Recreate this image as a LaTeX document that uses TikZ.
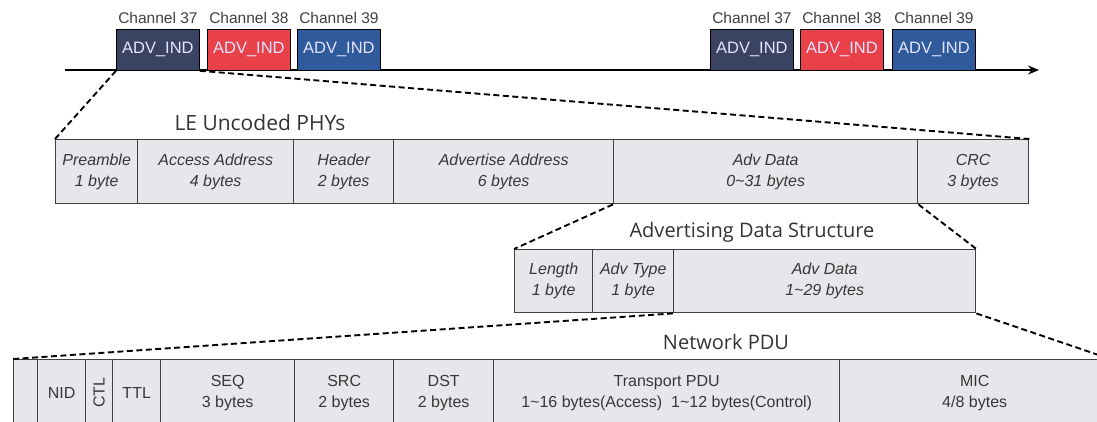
\documentclass[tikz,border=0pt]{standalone}
\usepackage{fontspec}
\setmainfont{Liberation Sans}
\newfontfamily\titlefont{Open Sans}
\usetikzlibrary{arrows.meta}

\definecolor{chnavy}{HTML}{3A4362}
\definecolor{chred}{HTML}{E8414A}
\definecolor{chblue}{HTML}{2F5A9C}
\definecolor{cellgray}{HTML}{E6E6EB}
\definecolor{edgegray}{HTML}{404040}

\tikzset{
  advbox/.style={draw=black, line width=0.8pt, inner sep=0pt, anchor=north west,
    minimum width=83pt, minimum height=41pt, text=white!90!blue,
    font=\fontsize{16.5}{18}\selectfont},
  chlabel/.style={inner sep=0pt, text=black!75, font=\fontsize{15.5}{17}\selectfont},
  cell/.style={draw=edgegray, fill=cellgray, line width=1.4pt, inner sep=0pt,
    anchor=north west, align=center, text=black!78,
    font=\fontsize{16}{21}\selectfont\itshape},
  pducell/.style={cell, font=\fontsize{16}{21}\selectfont},
  title/.style={inner sep=0pt, text=black!80, font=\titlefont\fontsize{20}{22}\selectfont},
  zoomline/.style={line width=1.9pt, dash pattern=on 6pt off 3.5pt}
}

\begin{document}
\begin{tikzpicture}[x=1pt,y=-1pt]
\path[use as bounding box, clip] (0,0) rectangle (1097,421);

% time axis with the advertising events
\coordinate (axstart) at (65,70);
\coordinate (axend) at (1039,70);
\draw[line width=1.5pt,-{Stealth[length=11pt,width=9pt]}] (axstart) -- (axend);

\node[advbox, fill=chnavy] (adv1) at (116,29) {ADV\_IND};
\node[advbox, fill=chred]  (adv2) at (207,29) {ADV\_IND};
\node[advbox, fill=chblue] (adv3) at (297,29) {ADV\_IND};
\node[advbox, fill=chnavy] (adv4) at (710,29) {ADV\_IND};
\node[advbox, fill=chred]  (adv5) at (800,29) {ADV\_IND};
\node[advbox, fill=chblue] (adv6) at (892,29) {ADV\_IND};

\foreach \n/\c in {adv1/37,adv2/38,adv3/39,adv4/37,adv5/38,adv6/39}
  \node[chlabel, above=5pt] at (\n.north) {Channel \c};

% LE Uncoded PHYs
\node[title, font=\titlefont\fontsize{21}{23}\selectfont] (phytitle) at (260,123) {LE Uncoded PHYs};
\node[cell, minimum width=82pt,  minimum height=64pt] (pre)   at (55,139)  {Preamble\\1 byte};
\node[cell, minimum width=156pt, minimum height=64pt] (acc)   at (137,139) {Access Address\\4 bytes};
\node[cell, minimum width=100pt, minimum height=64pt] (hdr)   at (293,139) {Header\\2 bytes};
\node[cell, minimum width=220pt, minimum height=64pt] (aaddr) at (393,139) {Advertise Address\\6 bytes};
\node[cell, minimum width=304pt, minimum height=64pt] (adata) at (613,139) {Adv Data\\0\textasciitilde31 bytes};
\node[cell, minimum width=111pt, minimum height=64pt] (crc)   at (917,139) {CRC\\3 bytes};

\draw[zoomline] (adv1.south west) -- (pre.north west);
\draw[zoomline] (adv1.south east) -- (crc.north east);

% Advertising Data Structure
\node[title] (adstitle) at (752,232) {Advertising Data Structure};
\node[cell, minimum width=78pt,  minimum height=63pt] (len)   at (514,249) {Length\\1 byte};
\node[cell, minimum width=81pt,  minimum height=63pt] (atype) at (592,249) {Adv Type\\1 byte};
\node[cell, minimum width=302pt, minimum height=63pt] (adv)   at (673,249) {Adv Data\\1\textasciitilde29 bytes};

\draw[zoomline] (adata.south west) -- (len.north west);
\draw[zoomline] (adata.south east) -- (adv.north east);

% Network PDU
\node[title] (netitle) at (726,342) {Network PDU};
\node[pducell, minimum width=24pt,  minimum height=66pt] (ivi)  at (13,359)  {};
\node[pducell, minimum width=48pt,  minimum height=66pt] (nid)  at (37,359)  {NID};
\node[pducell, minimum width=27pt,  minimum height=66pt] (ctl)  at (85,359)  {\rotatebox{90}{CTL}};
\node[pducell, minimum width=48pt,  minimum height=66pt] (ttl)  at (112,359) {TTL};
\node[pducell, minimum width=134pt, minimum height=66pt] (seq)  at (160,359) {SEQ\\3 bytes};
\node[pducell, minimum width=99pt,  minimum height=66pt] (src)  at (294,359) {SRC\\2 bytes};
\node[pducell, minimum width=100pt, minimum height=66pt] (dst)  at (393,359) {DST\\2 bytes};
\node[pducell, minimum width=346pt, minimum height=66pt] (tpdu) at (493,359) {Transport PDU\\1\textasciitilde16 bytes(Access)\ \ 1\textasciitilde12 bytes(Control)};
\node[pducell, minimum width=270pt, minimum height=66pt] (mic)  at (839,359) {MIC\\4/8 bytes};

\draw[zoomline] (adv.south west) -- (ivi.north west);
\draw[zoomline] (adv.south east) -- (mic.north east);
\end{tikzpicture}
\end{document}
